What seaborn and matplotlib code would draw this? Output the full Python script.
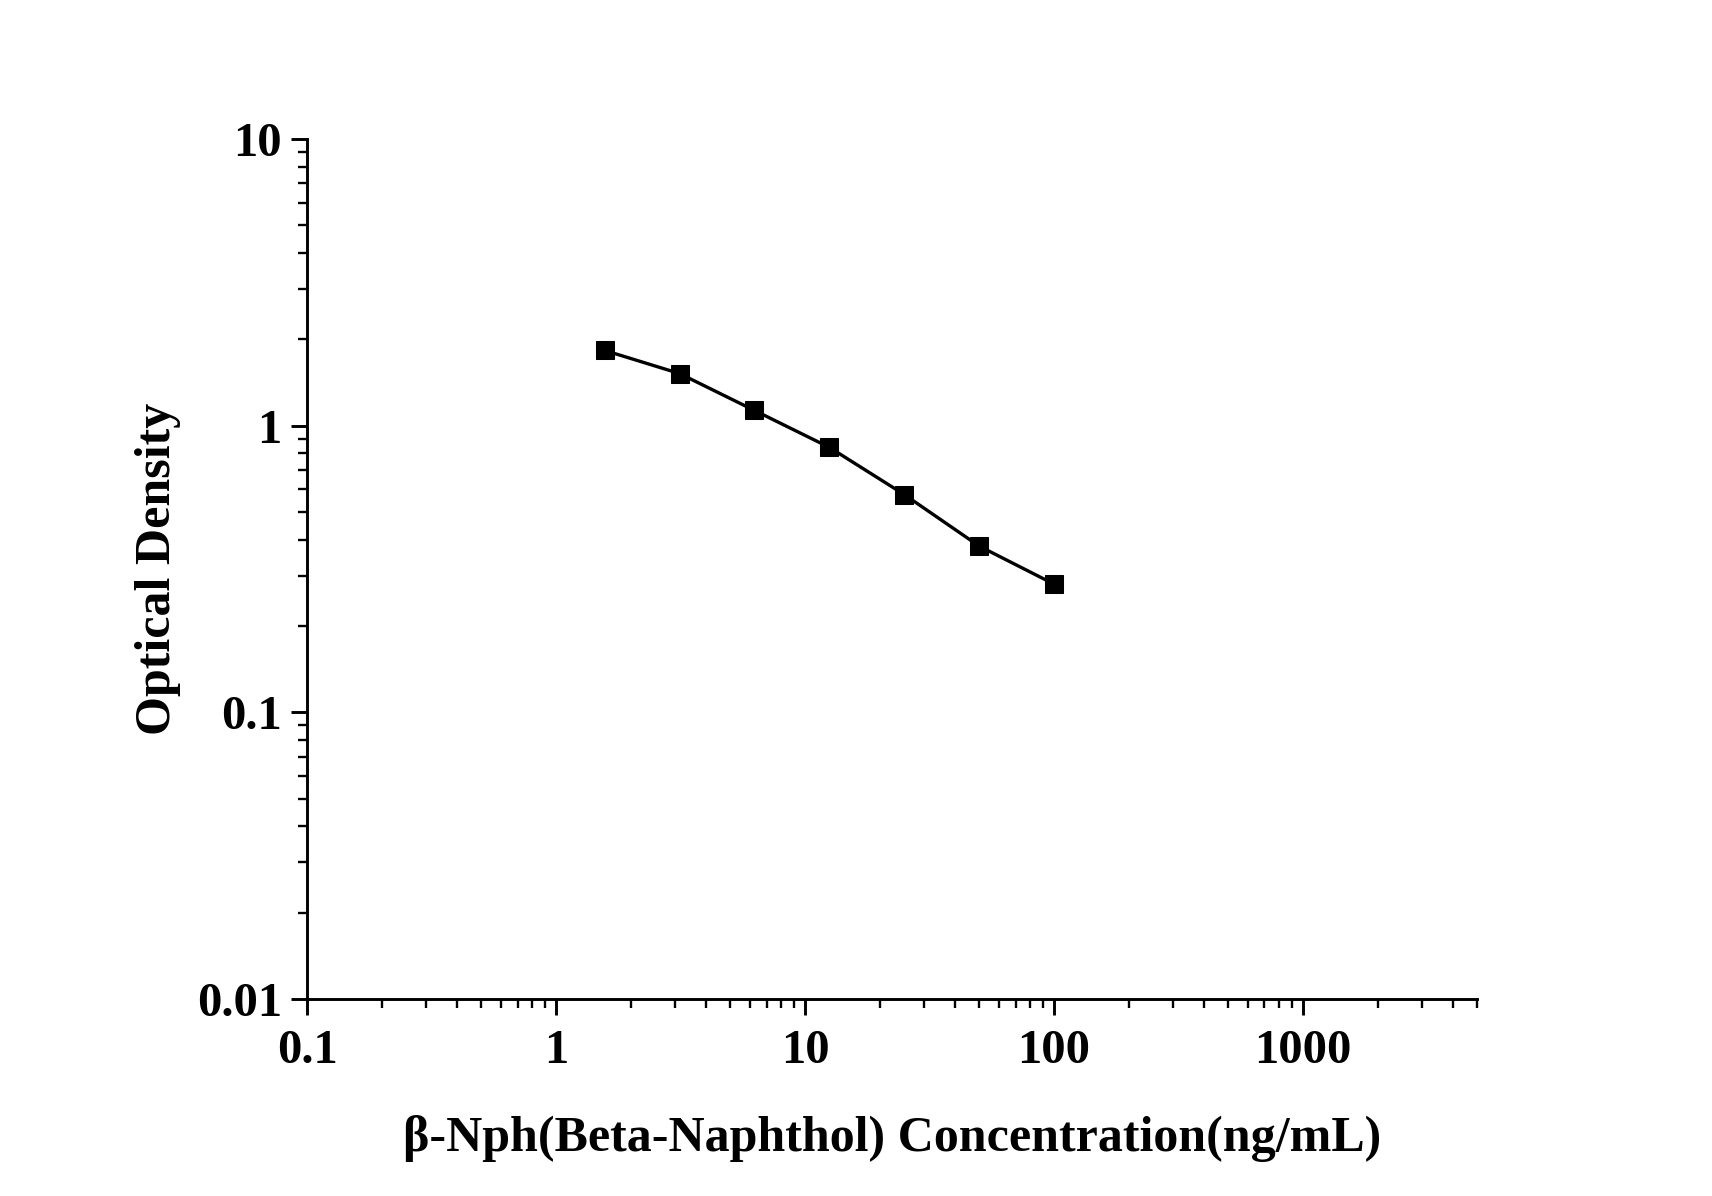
import matplotlib
matplotlib.use("Agg")
import matplotlib.pyplot as plt
import matplotlib.ticker as mticker
import seaborn as sns
import pandas as pd

# standard curve readings
concentration = [1.5625, 3.125, 6.25, 12.5, 25, 50, 100]
optical_density = [1.83, 1.52, 1.13, 0.84, 0.575, 0.38, 0.28]

x_ticks = [0.1, 1, 10, 100, 1000]
x_tick_labels = ["0.1", "1", "10", "100", "1000"]
y_ticks = [0.01, 0.1, 1, 10]
y_tick_labels = ["0.01", "0.1", "1", "10"]

df = pd.DataFrame({"conc": concentration, "od": optical_density})

sns.set_style("ticks")
plt.rcParams["font.family"] = ["Liberation Serif", "DejaVu Serif"]
plt.rcParams["font.weight"] = "bold"
plt.rcParams["text.color"] = "black"
plt.rcParams["axes.labelcolor"] = "black"

fig = plt.figure(figsize=(17.12, 11.96), dpi=100)
ax = fig.add_axes([0.1796, 0.1647, 0.6831, 0.7191])

sns.lineplot(data=df, x="conc", y="od", ax=ax, color="black", linewidth=2.4,
             marker="s", markersize=13.5, markeredgecolor="black",
             markerfacecolor="black")

ax.set_xscale("log")
ax.set_yscale("log")
ax.set_xlim(0.1, 5000)
ax.set_ylim(0.01, 10)

ax.set_xticks(x_ticks)
ax.set_xticklabels(x_tick_labels)
ax.set_yticks(y_ticks)
ax.set_yticklabels(y_tick_labels)
ax.xaxis.set_minor_locator(mticker.LogLocator(base=10, subs=range(2, 10), numticks=20))
ax.yaxis.set_minor_locator(mticker.LogLocator(base=10, subs=range(2, 10), numticks=20))
ax.xaxis.set_minor_formatter(mticker.NullFormatter())
ax.yaxis.set_minor_formatter(mticker.NullFormatter())

sns.despine(ax=ax)
for side in ["left", "bottom"]:
    ax.spines[side].set_linewidth(2.1)
    ax.spines[side].set_color("black")

ax.tick_params(which="major", direction="out", length=11.5, width=2.1,
               labelsize=35, pad=7, colors="black", labelcolor="black")
ax.tick_params(which="minor", direction="out", length=6.5, width=1.7, colors="black")
ax.tick_params(axis="x", which="major", pad=10)

ax.set_xlabel("β-Nph(Beta-Naphthol) Concentration(ng/mL)", fontsize=36,
              fontweight="bold", labelpad=30, color="black")
ax.set_ylabel("Optical Density", fontsize=36, fontweight="bold", labelpad=11,
              color="black")
for lab in ax.get_xticklabels() + ax.get_yticklabels():
    lab.set_fontweight("bold")

fig.savefig("out.png", dpi=100, facecolor="white")
